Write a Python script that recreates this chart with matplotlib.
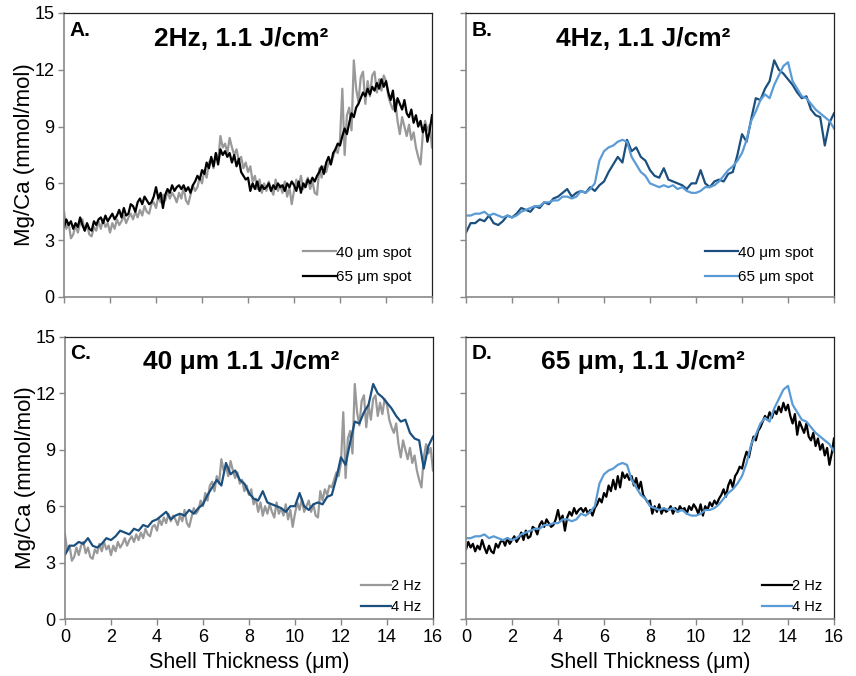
import numpy as np
import matplotlib
matplotlib.use("Agg")
import matplotlib.pyplot as plt

plt.rcParams['font.family'] = ['Liberation Sans', 'DejaVu Sans']

# Mg/Ca profiles (mmol/mol) across shell thickness (um)
hz2_40um = [
    4.5, 3.6, 3.9, 3.1, 3.3, 3.8, 3.4, 3.9, 4.1, 3.5,
    3.8, 3.3, 3.2, 3.7, 3.5, 4.0, 3.6, 4.1, 3.7, 3.9,
    3.4, 3.9, 3.6, 4.1, 3.8, 4.0, 4.3, 3.9, 4.2, 4.4,
    4.1, 4.5, 4.2, 4.6, 4.3, 4.8, 4.5, 4.4, 4.9, 5.0,
    4.7, 5.3, 5.0, 5.4, 5.1, 5.6, 5.2, 5.5, 5.3, 5.0,
    5.5, 5.2, 5.8, 5.1, 4.9, 5.4, 5.9, 5.6, 5.8, 6.3,
    6.0, 6.7, 6.3, 7.1, 7.3, 6.8, 7.6, 7.2, 8.5, 7.9,
    8.1, 7.6, 8.4, 7.9, 7.5, 7.8, 7.2, 7.4, 6.8, 7.1,
    6.6, 6.9, 6.1, 6.4, 5.7, 6.2, 5.5, 6.0, 5.6, 6.1,
    5.7, 5.4, 6.2, 5.6, 5.9, 5.5, 6.1, 5.3, 5.8, 4.9,
    5.6, 6.2, 5.8, 6.4, 5.7, 6.0, 6.3, 5.7, 6.1, 5.5,
    5.4, 6.8, 6.3, 6.9, 6.6, 7.1, 7.0, 7.4, 7.8, 7.6,
    8.3, 11.0, 7.5, 9.6, 10.0, 8.8, 12.5, 11.0, 10.3, 11.6,
    11.9, 10.2, 11.4, 10.6, 11.7, 11.9, 10.8, 11.5, 10.9, 11.7,
    11.4, 10.6, 10.2, 9.9, 10.4, 9.3, 8.6, 9.5, 9.0, 8.5,
    9.1, 8.3, 8.7, 7.9, 7.4, 7.0, 8.6, 9.3, 8.8, 9.1,
    7.9,
]
hz2_65um = [
    3.7, 4.1, 3.8, 4.0, 3.6, 3.9, 3.7, 4.2, 3.8, 3.5,
    3.9, 3.6, 3.5, 4.0, 3.8, 4.1, 4.2, 3.9, 4.3, 4.0,
    4.2, 4.4, 4.1, 4.3, 4.6, 4.2, 4.7, 4.3, 4.4, 4.9,
    4.8, 4.5, 5.0, 5.2, 4.9, 5.3, 5.1, 4.9, 5.0, 5.3,
    5.8, 5.2, 5.5, 4.7, 5.4, 5.7, 5.5, 5.9, 5.6, 5.8,
    5.9, 5.7, 5.9, 5.6, 5.8, 5.5, 5.9, 6.1, 6.4, 6.2,
    6.7, 6.5, 7.1, 6.8, 7.4, 6.9, 7.6, 7.0, 7.8, 7.5,
    7.7, 7.4, 7.6, 7.1, 7.5, 6.9, 7.3, 6.6, 6.4, 6.2,
    6.3, 5.6, 6.0, 5.7, 6.1, 5.6, 5.9, 5.7, 5.8, 6.0,
    5.6, 5.9, 5.7, 6.0, 5.8, 5.9, 5.6, 6.0, 5.8, 6.1,
    5.9, 5.6, 6.1, 5.5, 6.0, 5.8, 6.2, 6.0, 6.3, 6.1,
    6.4, 6.6, 6.9, 6.5, 7.1, 7.4, 7.0, 7.6, 7.8, 8.1,
    8.0, 8.5, 8.9, 8.6, 9.2, 9.7, 9.5, 10.0, 10.2, 10.5,
    10.8, 10.6, 11.0, 10.7, 11.1, 10.9, 11.3, 11.0, 11.5, 11.1,
    11.4, 10.8, 10.4, 10.9, 9.8, 10.5, 10.2, 9.9, 10.4, 9.7,
    9.5, 9.9, 9.2, 9.6, 9.0, 9.3, 8.7, 9.1, 8.2, 8.8,
    9.6,
]
hz4_40um = [
    3.4, 3.9, 3.9, 4.1, 4.0, 4.3, 3.9, 3.8, 4.0, 4.3,
    4.2, 4.4, 4.7, 4.6, 4.5, 4.8, 4.7, 5.0, 4.9, 5.2,
    5.3, 5.5, 5.7, 5.3, 5.5, 5.6, 5.5, 5.8, 5.6, 5.9,
    6.1, 6.6, 7.0, 7.4, 7.1, 8.3, 7.7, 7.9, 7.4, 7.2,
    6.7, 6.4, 6.3, 6.8, 6.2, 6.1, 6.0, 5.9, 5.7, 6.0,
    6.0, 6.7, 6.0, 5.8, 6.1, 6.2, 6.1, 6.5, 6.6, 7.5,
    8.6, 8.2, 9.4, 10.5, 10.4, 11.0, 11.4, 12.5, 12.0, 11.8,
    11.5, 11.2, 10.8, 10.5, 10.6, 9.9, 9.6, 9.5, 8.0, 9.2,
    9.7,
]
hz4_65um = [
    4.3, 4.3, 4.4, 4.4, 4.5, 4.3, 4.4, 4.3, 4.2, 4.3,
    4.2, 4.3, 4.5, 4.6, 4.7, 4.8, 4.8, 5.0, 5.0, 5.1,
    5.1, 5.3, 5.3, 5.2, 5.3, 5.6, 5.5, 5.7, 6.0, 7.2,
    7.7, 7.9, 8.0, 8.2, 8.3, 8.2, 7.4, 7.0, 6.6, 6.4,
    6.0, 5.9, 5.8, 5.9, 5.8, 5.9, 5.7, 5.8, 5.6, 5.5,
    5.5, 5.6, 5.8, 5.8, 5.9, 6.1, 6.4, 6.7, 6.9, 7.2,
    7.6, 8.3, 9.3, 9.8, 10.4, 10.7, 10.5, 11.2, 11.7, 12.2,
    12.4, 11.4, 11.0, 10.6, 10.5, 10.2, 9.9, 9.7, 9.5, 9.3,
    8.9,
]
x_2hz = np.linspace(0, 16, len(hz2_40um))
x_4hz = np.linspace(0, 16, len(hz4_40um))

GRAY = '#999999'
BLACK = '#000000'
DARK_BLUE = '#1B4F7E'
LIGHT_BLUE = '#5B9BD5'

panels = [
    ('A.', '2Hz, 1.1 J/cm\u00b2',
     [(x_2hz, hz2_40um, GRAY, '40 \u03bcm spot'), (x_2hz, hz2_65um, BLACK, '65 \u03bcm spot')]),
    ('B.', '4Hz, 1.1 J/cm\u00b2',
     [(x_4hz, hz4_40um, DARK_BLUE, '40 \u03bcm spot'), (x_4hz, hz4_65um, LIGHT_BLUE, '65 \u03bcm spot')]),
    ('C.', '40 \u03bcm 1.1 J/cm\u00b2',
     [(x_2hz, hz2_40um, GRAY, '2 Hz'), (x_4hz, hz4_40um, DARK_BLUE, '4 Hz')]),
    ('D.', '65 \u03bcm, 1.1 J/cm\u00b2',
     [(x_2hz, hz2_65um, BLACK, '2 Hz'), (x_4hz, hz4_65um, LIGHT_BLUE, '4 Hz')]),
]

fig = plt.figure(figsize=(8.56, 6.76), dpi=100)
positions = [
    [0.0748, 0.5607, 0.4299, 0.4201],
    [0.5444, 0.5607, 0.4299, 0.4201],
    [0.0759, 0.0843, 0.4299, 0.4172],
    [0.5444, 0.0843, 0.4299, 0.4172],
]

for i, (pos, (letter, title, series)) in enumerate(zip(positions, panels)):
    ax = fig.add_axes(pos)
    for xs, ys, color, label in series:
        ax.plot(xs, ys, color=color, lw=1.6, label=label)
    ax.set_xlim(0, 16)
    ax.set_ylim(0, 15)
    ax.set_xticks(np.arange(0, 17, 2))
    ax.set_yticks(np.arange(0, 16, 3))
    for side in ['left', 'bottom']:
        ax.spines[side].set_color('#888888')
        ax.spines[side].set_linewidth(1.2)
    for side in ['top', 'right']:
        ax.spines[side].set_color('#222222')
        ax.spines[side].set_linewidth(0.9)
    ax.tick_params(direction='out', length=4, width=1, color='#888888',
                   labelsize=13, pad=3)
    if i % 2 == 1:
        ax.tick_params(labelleft=False)
    else:
        ax.set_ylabel('Mg/Ca (mmol/mol)', fontsize=16)
        ax.yaxis.set_label_coords(-0.079, 0.5)
    if i < 2:
        ax.tick_params(labelbottom=False)
        legend_anchor = (0.98, -0.003)
        legend_size = 11
        legend_spacing = 0.68
    else:
        ax.set_xlabel('Shell Thickness (\u03bcm)', fontsize=15.5)
        ax.xaxis.set_label_coords(0.5, -0.118)
        legend_anchor = (1.005, -0.028)
        legend_size = 10.5
        legend_spacing = 0.45

    ax.text(0.015, 0.94, letter, transform=ax.transAxes, fontsize=15,
            fontweight='bold', ha='left', va='center')
    ax.text(0.48, 0.91, title, transform=ax.transAxes, fontsize=19,
            fontweight='bold', ha='center', va='center')

    ax.legend(loc='lower right', bbox_to_anchor=legend_anchor, frameon=False,
              fontsize=legend_size, handlelength=2.1, handletextpad=0.0,
              labelspacing=legend_spacing)

fig.savefig('out.png', dpi=100)
